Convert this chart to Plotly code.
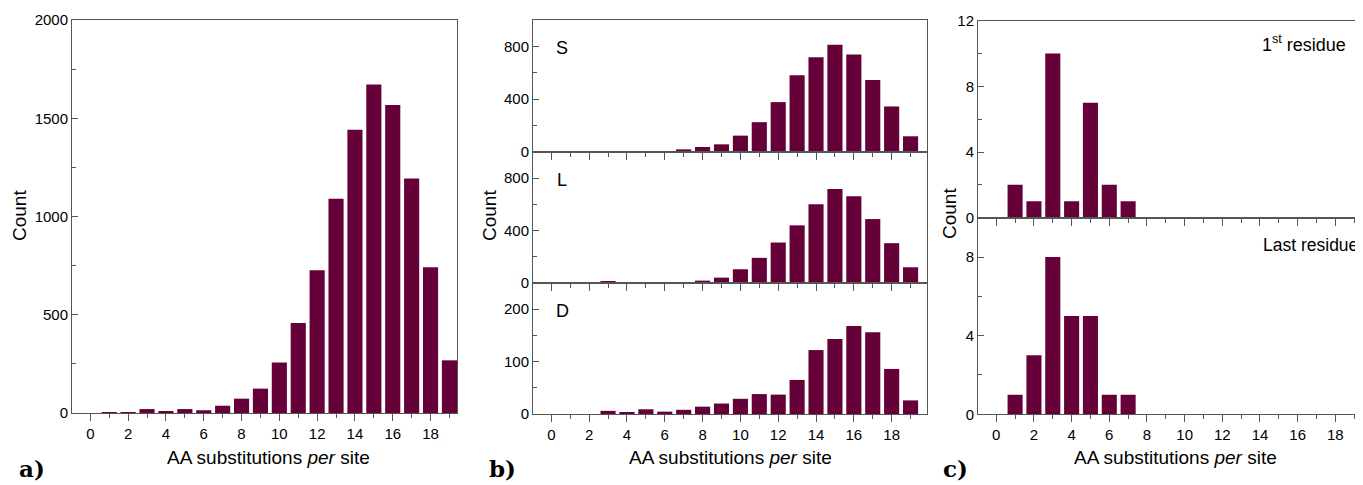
import plotly.graph_objects as go

# page body adds an 8px margin, so the figure is sized to the remaining area
OFF = 8
W, H = 1363 - OFF, 485 - OFF

# ---------------- data ----------------
x_sites = list(range(0, 20))
count_all = [0, 5, 5, 20, 10, 20, 14, 37, 73, 124, 257, 458, 727, 1090, 1441, 1672, 1568, 1193, 742, 268]
count_S = [0, 0, 0, 0, 0, 3, 2, 20, 38, 58, 124, 226, 378, 581, 718, 812, 739, 546, 345, 119]
count_L = [0, 0, 0, 10, 2, 2, 2, 7, 18, 41, 105, 192, 309, 440, 601, 718, 662, 488, 304, 120]
count_D = [0, 0, 0, 6, 3, 9, 4.5, 8, 14, 20, 29, 38, 37, 65, 122, 143, 168, 156, 86, 26]
x_res = [1, 2, 3, 4, 5, 6, 7]
count_first = [2, 1, 10, 1, 7, 2, 1]
count_last = [1, 3, 8, 5, 5, 1, 1]

bar_color = "#660038"
axis_color = "#555555"
font_family = "Liberation Sans, Arial, Helvetica, sans-serif"


def px_x(p):
    return (p - OFF) / W


def px_y(p):
    return 1 - (p - OFF) / H


fig = go.Figure()

series = [
    (x_sites, count_all, "x", "y"),
    (x_sites, count_S, "x2", "y2"),
    (x_sites, count_L, "x3", "y3"),
    (x_sites, count_D, "x4", "y4"),
    (x_res, count_first, "x5", "y5"),
    (x_res, count_last, "x6", "y6"),
]
for xs, ys, xa, ya in series:
    fig.add_trace(go.Bar(x=xs, y=ys, xaxis=xa, yaxis=ya, width=0.8,
                         marker=dict(color=bar_color, line=dict(width=0)),
                         showlegend=False, hoverinfo="x+y"))


def xaxis(domain, rng, labels, mirror):
    return dict(domain=domain, range=rng, showgrid=False, zeroline=False,
                automargin=False,
                showline=True, linecolor=axis_color, linewidth=1, mirror=mirror,
                ticks="outside", ticklen=7, tickcolor=axis_color, tickwidth=1,
                tick0=0, dtick=2, showticklabels=labels,
                minor=dict(dtick=1, tick0=0, ticks="outside", ticklen=4,
                           tickcolor=axis_color, tickwidth=1),
                tickfont=dict(family=font_family, size=15, color="black"),
                fixedrange=True)


def yaxis(domain, rng, dtick, mdtick, anchor, mirror):
    return dict(domain=domain, range=rng, anchor=anchor, showgrid=False,
                automargin=False,
                zeroline=False, showline=True, linecolor=axis_color, linewidth=1,
                mirror=mirror, ticks="inside", ticklen=6, tickcolor=axis_color,
                tickwidth=1, tick0=0, dtick=dtick,
                minor=dict(dtick=mdtick, tick0=0, ticks="inside", ticklen=4,
                           tickcolor=axis_color, tickwidth=1),
                tickfont=dict(family=font_family, size=15, color="black"),
                fixedrange=True)


# panel a
dom_a_x = [px_x(72), px_x(457)]
dom_a_y = [px_y(413), px_y(20)]
# panel b
dom_b_x = [px_x(533), px_x(927)]
dom_S = [px_y(152), px_y(20)]
dom_L = [px_y(283), px_y(152)]
dom_D = [px_y(414), px_y(283)]
# panel c
dom_c_x = [px_x(978), 1.0]
dom_c1 = [px_y(217.7), px_y(20.7)]
dom_c2 = [px_y(414.3), px_y(217.7)]

fig.update_layout(
    xaxis=dict(xaxis(dom_a_x, [-0.97, 19.4], True, True), anchor="y"),
    yaxis=yaxis(dom_a_y, [0, 2000], 500, 250, "x", True),
    xaxis2=dict(xaxis(dom_b_x, [-0.97, 19.87], False, True), anchor="y2"),
    yaxis2=yaxis(dom_S, [0, 1000], 400, 200, "x2", True),
    xaxis3=dict(xaxis(dom_b_x, [-0.97, 19.87], False, True), anchor="y3"),
    yaxis3=yaxis(dom_L, [0, 1000], 400, 200, "x3", True),
    xaxis4=dict(xaxis(dom_b_x, [-0.97, 19.87], True, True), anchor="y4"),
    yaxis4=yaxis(dom_D, [0, 250], 100, 50, "x4", True),
    xaxis5=dict(xaxis(dom_c_x, [-0.97, 19.47], False, True), anchor="y5"),
    yaxis5=yaxis(dom_c1, [0, 12], 4, 2, "x5", False),
    xaxis6=dict(xaxis(dom_c_x, [-0.97, 19.47], True, True), anchor="y6"),
    yaxis6=yaxis(dom_c2, [0, 10], 4, 2, "x6", False),
)

ann = []


def text(x, y, s, size=19, xanchor="center", angle=0, family=font_family, color="black"):
    ann.append(dict(x=px_x(x), y=px_y(y), xref="paper", yref="paper", text=s,
                    showarrow=False, xanchor=xanchor, yanchor="middle",
                    textangle=angle, font=dict(family=family, size=size, color=color)))


xtitle = "AA substitutions <i>per</i> site"
text(268, 457, xtitle)
text(730, 457, xtitle)
text(1175, 457, xtitle)
text(19, 216, "Count", angle=-90)
text(489, 216, "Count", angle=-90)
text(949, 214, "Count", angle=-90)

text(562, 48, "S", size=18)
text(562, 180, "L", size=18)
text(562, 311, "D", size=18)
text(1348, 44, "1<sup>st</sup> residue", size=18, xanchor="right")
text(1360, 245, "Last residue", size=17.5, xanchor="right")

serif = "DejaVu Serif, Liberation Serif, serif"
text(32, 468, "<b>a)</b>", size=23, family=serif)
text(502, 468, "<b>b)</b>", size=23, family=serif)
text(955, 468, "<b>c)</b>", size=23, family=serif)

fig.update_layout(annotations=ann, width=W, height=H,
                  margin=dict(l=0, r=0, t=0, b=0, autoexpand=False),
                  paper_bgcolor="white", plot_bgcolor="white",
                  bargap=0.2)

fig.write_html("out.html", config={"displayModeBar": False})
